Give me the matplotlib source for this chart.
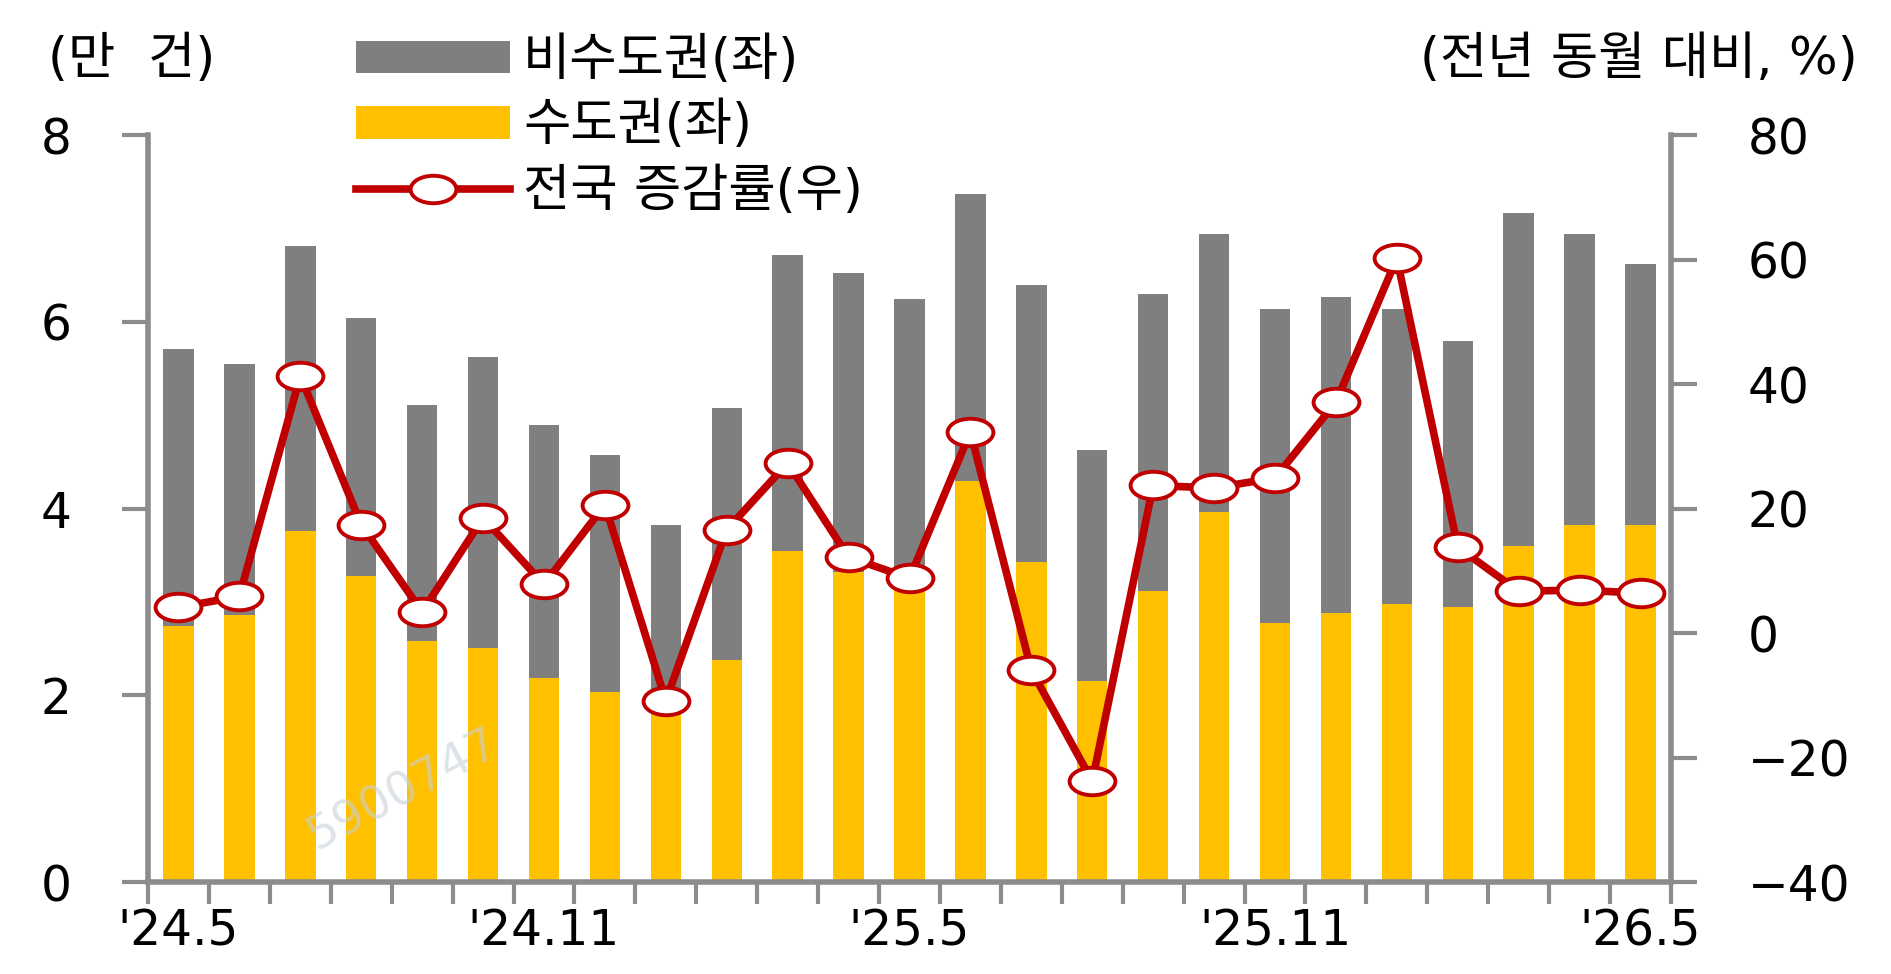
import numpy as np
import matplotlib
matplotlib.use("Agg")
import matplotlib.pyplot as plt
from matplotlib.patches import Patch
from matplotlib.lines import Line2D
from matplotlib.path import Path

plt.rcParams['font.family'] = ['DejaVu Sans', 'Noto Sans CJK KR']

# data
months = ["'24.5", "'24.6", "'24.7", "'24.8", "'24.9", "'24.10", "'24.11", "'24.12",
          "'25.1", "'25.2", "'25.3", "'25.4", "'25.5", "'25.6", "'25.7", "'25.8",
          "'25.9", "'25.10", "'25.11", "'25.12", "'26.1", "'26.2", "'26.3", "'26.4", "'26.5"]
label_idx = [0, 6, 12, 18, 24]
capital = [2.74, 2.86, 3.76, 3.28, 2.58, 2.51, 2.19, 2.03, 1.81, 2.38, 3.54, 3.32, 3.13,
           4.29, 3.43, 2.15, 3.12, 3.96, 2.77, 2.88, 2.98, 2.94, 3.60, 3.82, 3.82]
non_capital = [2.97, 2.69, 3.05, 2.76, 2.53, 3.11, 2.70, 2.54, 2.01, 2.70, 3.18, 3.20, 3.11,
               3.08, 2.96, 2.48, 3.18, 2.98, 3.37, 3.38, 3.16, 2.85, 3.57, 3.12, 2.80]
growth = [4.1, 5.9, 41.3, 17.4, 3.4, 18.5, 7.8, 20.6, -10.9, 16.6, 27.3, 12.2, 8.8,
          32.3, -6.0, -23.8, 23.7, 23.3, 24.9, 37.1, 60.2, 13.8, 6.7, 6.9, 6.4]

GRAY = "#7F7F7F"
YELLOW = "#FFC000"
RED = "#C00000"
SPINE = "#8C8C8C"

W, H = 1891, 974
fig = plt.figure(figsize=(W / 100, H / 100), dpi=100)
ax = fig.add_axes([148 / W, 1 - 882 / H, (1671 - 148) / W, (882 - 135) / H])
ax2 = ax.twinx()

x = np.arange(len(months))
ax.bar(x, capital, width=0.5, color=YELLOW, zorder=2)
ax.bar(x, non_capital, width=0.5, bottom=capital, color=GRAY, zorder=2)

# ellipse marker, like the squashed circles in the source
circ = Path.unit_circle()
ellipse = Path(circ.vertices * np.array([1.0, 0.6]), circ.codes)
ax2.plot(x, growth, color=RED, lw=5.5, marker=ellipse, markersize=33,
         markerfacecolor="white", markeredgecolor=RED, markeredgewidth=2.8, zorder=5)

ax.set_xlim(-0.5, len(months) - 0.5)
ax.set_ylim(0, 8)
ax2.set_ylim(-40, 80)
ax.set_yticks([0, 2, 4, 6, 8])
ax2.set_yticks([-40, -20, 0, 20, 40, 60, 80])

ax.set_xticks(np.arange(-0.5, len(months), 1))
ax.set_xticklabels([])
ax.set_xticks(label_idx, minor=True)
ax.set_xticklabels([months[i] for i in label_idx], minor=True)

for a in (ax, ax2):
    a.spines['top'].set_visible(False)
ax.spines['right'].set_visible(False)
ax2.spines['left'].set_visible(False)
ax2.spines['bottom'].set_visible(False)
for s in ('left', 'bottom'):
    ax.spines[s].set_color(SPINE)
    ax.spines[s].set_linewidth(4)
ax2.spines['right'].set_color(SPINE)
ax2.spines['right'].set_linewidth(4)

ax.tick_params(axis='y', direction='out', length=19, width=3, color=SPINE,
               labelsize=35, pad=36)
ax2.tick_params(axis='y', direction='out', length=19, width=3, color=SPINE,
                labelsize=35, pad=36)
ax.tick_params(axis='x', which='major', direction='out', length=16, width=3, color=SPINE)
ax.tick_params(axis='x', which='minor', length=0, labelsize=35, pad=18)

fig.text(48 / W, 1 - 60 / H, "(만  건)", fontsize=37, va='center', ha='left')
fig.text(1858 / W, 1 - 60 / H, "(전년 동월 대비, %)", fontsize=37, va='center', ha='right')

handles = [Patch(facecolor=GRAY, edgecolor='none'),
           Patch(facecolor=YELLOW, edgecolor='none'),
           Line2D([], [], color=RED, lw=5.5, marker=ellipse, markersize=33,
                  markerfacecolor="white", markeredgecolor=RED, markeredgewidth=2.8)]
labels = ["비수도권(좌)", "수도권(좌)", "전국 증감률(우)"]
fig.legend(handles, labels, loc='upper left', bbox_to_anchor=(356 / W, 1 - 36 / H),
           frameon=False, fontsize=37, borderpad=0, borderaxespad=0,
           handlelength=3.0, handleheight=0.6, handletextpad=0.25, labelspacing=0.3)

fig.text(300 / W, 1 - 790 / H, "5900747", fontsize=34, rotation=28, color="#C8D0DA",
         alpha=0.6, ha='left', va='center')

fig.savefig("out.png", dpi=100)
